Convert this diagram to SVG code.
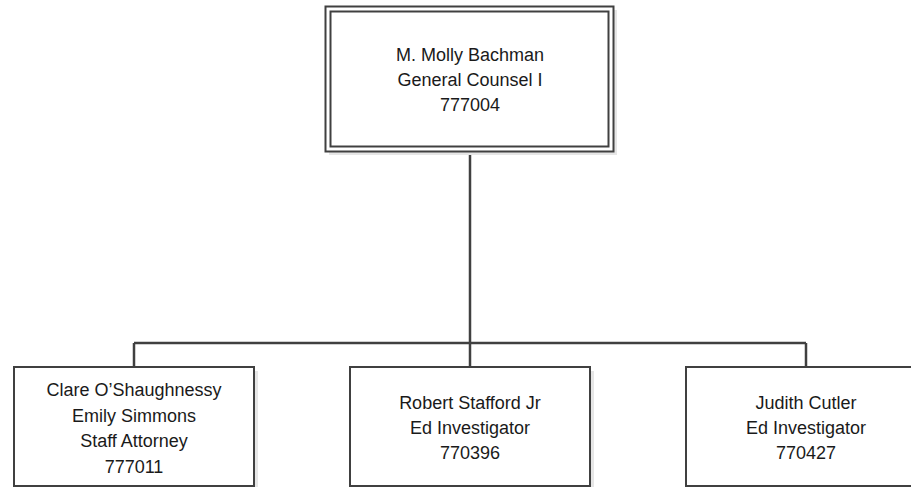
<svg xmlns="http://www.w3.org/2000/svg" width="911" height="487" viewBox="0 0 911 487">
  <style>
    .box { fill: #ffffff; stroke: #404040; stroke-width: 2; }
    .shadow { fill: #e6e6e6; }
    .conn { fill: none; stroke: #404040; stroke-width: 2.5; }
    .connsh { fill: none; stroke: #d0d0d0; stroke-width: 1; }
    text { font-family: "Liberation Sans", Arial, sans-serif; font-size: 18px; fill: #1a1a1a; text-anchor: middle; }
  </style>
  <rect width="911" height="487" fill="#ffffff"/>
  <g id="connectors">
    <path class="conn" d="M470,152 V343 M134,343 H806 M134,343 V367 M470,343 V367 M806,343 V367"/>
  </g>
  <g id="node-top">
    <rect class="shadow" x="329" y="10" width="288" height="145"/>
    <rect class="box" x="325.5" y="6.5" width="288" height="145"/>
    <rect class="box" x="330.5" y="11.5" width="278" height="135"/>
    <text x="470" y="61">M. Molly Bachman</text>
    <text x="470" y="86">General Counsel I</text>
    <text x="470" y="111">777004</text>
  </g>
  <g id="node-left">
    <rect class="shadow" x="18" y="371" width="240" height="119"/>
    <rect class="box" x="14" y="367" width="240" height="119"/>
    <text x="134" y="396">Clare O’Shaughnessy</text>
    <text x="134" y="422">Emily Simmons</text>
    <text x="134" y="447">Staff Attorney</text>
    <text x="134" y="473">777011</text>
  </g>
  <g id="node-middle">
    <rect class="shadow" x="354" y="371" width="240" height="119"/>
    <rect class="box" x="350" y="367" width="240" height="119"/>
    <text x="470" y="409">Robert Stafford Jr</text>
    <text x="470" y="434">Ed Investigator</text>
    <text x="470" y="459">770396</text>
  </g>
  <g id="node-right">
    <rect class="shadow" x="690" y="371" width="240" height="119"/>
    <rect class="box" x="686" y="367" width="240" height="119"/>
    <text x="806" y="409">Judith Cutler</text>
    <text x="806" y="434">Ed Investigator</text>
    <text x="806" y="459">770427</text>
  </g>
</svg>
